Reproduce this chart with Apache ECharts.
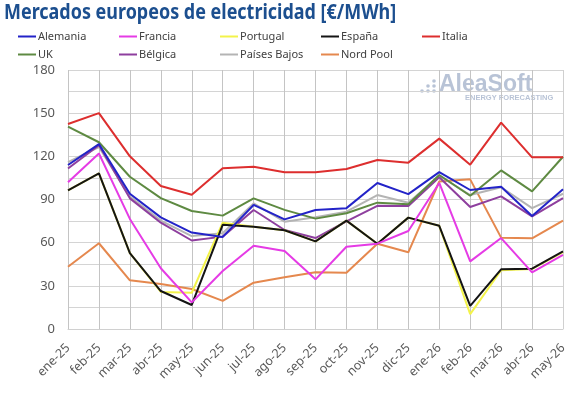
<!DOCTYPE html>
<html>
<head>
<meta charset="utf-8">
<script src="https://cdn.jsdelivr.net/npm/echarts@6/dist/echarts.min.js"></script>
<style>
html,body{margin:0;padding:0;background:#fff;}
#c{width:576px;height:399px;}
</style>
</head>
<body>
<div id="c"></div>
<script>
var months = ['ene-25','feb-25','mar-25','abr-25','may-25','jun-25','jul-25','ago-25','sep-25','oct-25','nov-25','dic-25','ene-26','feb-26','mar-26','abr-26','may-26'];
var alemania = [114, 128.5, 94, 77.6, 67, 64, 86.2, 76.2, 82.7, 84, 101.5, 93.7, 109, 96.6, 98.9, 78.5, 97.2];
var francia = [102, 122, 76.5, 42.2, 18.5, 40.3, 57.8, 54.2, 34.5, 57.2, 59.3, 68.1, 101.5, 47, 63.2, 39.4, 51.5];
var portugal = [96.3, 108.2, 52.8, 25.8, 25.2, 73.9, 71, 68.6, 60.9, 75.3, 59.2, 77.4, 71.7, 10.3, 40.8, 41.7, 53.5];
var espana = [96.3, 108.2, 52.8, 26.4, 16.7, 72.4, 71, 68.6, 60.9, 75.3, 59.2, 77.4, 71.7, 16, 41.5, 41.9, 54];
var italia = [142.5, 150, 120, 99.4, 93.3, 111.7, 112.8, 108.9, 108.9, 111.2, 117.4, 115.6, 132.3, 114.2, 143.4, 119.3, 119.3];
var uk = [140.6, 129.8, 105.8, 91, 82, 78.8, 90.8, 82.8, 76.7, 80.4, 87.8, 86.7, 107, 92.6, 110.2, 95.6, 119.7];
var belgica = [111.5, 127.8, 90.8, 73.9, 61.5, 64.2, 82.7, 68.8, 63.2, 74.8, 85.6, 85.5, 105.5, 84.8, 92.2, 78.3, 91];
var paisesBajos = [116, 126.5, 92, 75.3, 64.6, 66.5, 87.3, 74.6, 77.6, 81.5, 93.1, 87.8, 106.5, 93.1, 98.5, 84, 94];
var nordPool = [43.3, 59.6, 33.8, 31.3, 27.8, 19.5, 32.2, 35.9, 39.4, 39.1, 59.3, 53.3, 102.5, 104, 63.5, 63, 75.3];

var seriesDefs = [
  {name:'Alemania', data:alemania, color:'#2323c8'},
  {name:'Francia', data:francia, color:'#e53be5'},
  {name:'Portugal', data:portugal, color:'#f3f34a'},
  {name:'España', data:espana, color:'#141414'},
  {name:'Italia', data:italia, color:'#dd2e2e'},
  {name:'UK', data:uk, color:'#5e8a42'},
  {name:'Bélgica', data:belgica, color:'#8e3f9e'},
  {name:'Países Bajos', data:paisesBajos, color:'#b4b4b4'},
  {name:'Nord Pool', data:nordPool, color:'#e5884e'}
];
var drawOrder = ['Nord Pool','Países Bajos','Bélgica','UK','Italia','Portugal','España','Francia','Alemania'];
var legendPos = {
  'Alemania':[18,31],'Francia':[119,31],'Portugal':[220,31],'España':[321,31],'Italia':[422,31],
  'UK':[18,49],'Bélgica':[119,49],'Países Bajos':[220,49],'Nord Pool':[321,49]
};
var font = 'Noto Sans';
var legends = seriesDefs.map(function(s){
  return {
    data:[{name:s.name, icon:'rect'}],
    left:legendPos[s.name][0], top:legendPos[s.name][1],
    itemWidth:18, itemHeight:2, itemGap:0, padding:0,
    textStyle:{fontFamily:font, fontSize:11, color:'#404040', padding:[0,0,0,-3]},
    selectedMode:false
  };
});
var series = drawOrder.map(function(n){
  var s = seriesDefs.filter(function(d){return d.name===n;})[0];
  return {
    name:s.name, type:'line', data:s.data, showSymbol:false, symbol:'none',
    lineStyle:{width:2, color:s.color}, itemStyle:{color:s.color},
    animation:false, z: 2
  };
});

var wm = 'rgba(125,145,180,0.55)';
var chart = echarts.init(document.getElementById('c'), null, {renderer:'canvas'});
chart.setOption({
  animation:false,
  backgroundColor:'#ffffff',
  legend:legends,
  grid:{left:68, right:13, top:70, bottom:70},
  xAxis:{
    type:'category', data:months, boundaryGap:false,
    axisLine:{show:true, lineStyle:{color:'#d0d0d0'}},
    axisTick:{show:false},
    splitLine:{show:true, lineStyle:{color:'#c4c4c4', width:1}},
    axisLabel:{rotate:45, fontFamily:font, fontSize:12.5, color:'#595959', margin:17, interval:0}
  },
  yAxis:{
    type:'value', min:0, max:180, interval:15,
    axisLine:{show:false}, axisTick:{show:false},
    splitLine:{show:true, lineStyle:{color:'#d4d4d4', width:1}},
    axisLabel:{fontFamily:font, fontSize:13, color:'#595959', margin:13,
      formatter:function(v){return v%30===0 ? String(v) : '';}}
  },
  graphic:[
    {type:'text', x:4, y:3, scaleX:0.855, style:{text:'Mercados europeos de electricidad [€/MWh]', fontFamily:font, fontWeight:'bold', fontSize:21, fill:'#1c4f8f'}},
    {type:'rect', left:563, top:70, shape:{width:1, height:259}, style:{fill:'#d0d0d0'}, silent:true, z:1},
    {type:'text', left:439, top:73, style:{text:'AleaSoft', fontFamily:'Liberation Sans', fontWeight:'bold', fontSize:23, fill:wm}, z:0},
    {type:'text', left:465, top:94, style:{text:'ENERGY FORECASTING', fontFamily:'Liberation Sans', fontWeight:'bold', fontSize:7.5, fill:wm}, z:0},
    {type:'circle', shape:{cx:422, cy:91, r:1.8}, style:{fill:wm}},
    {type:'circle', shape:{cx:428, cy:86, r:1.8}, style:{fill:wm}},
    {type:'circle', shape:{cx:428, cy:91, r:1.8}, style:{fill:wm}},
    {type:'circle', shape:{cx:434, cy:81, r:1.8}, style:{fill:wm}},
    {type:'circle', shape:{cx:434, cy:86, r:1.8}, style:{fill:wm}},
    {type:'circle', shape:{cx:434, cy:91, r:1.8}, style:{fill:wm}}
  ],
  series:series
});
</script>
</body>
</html>
